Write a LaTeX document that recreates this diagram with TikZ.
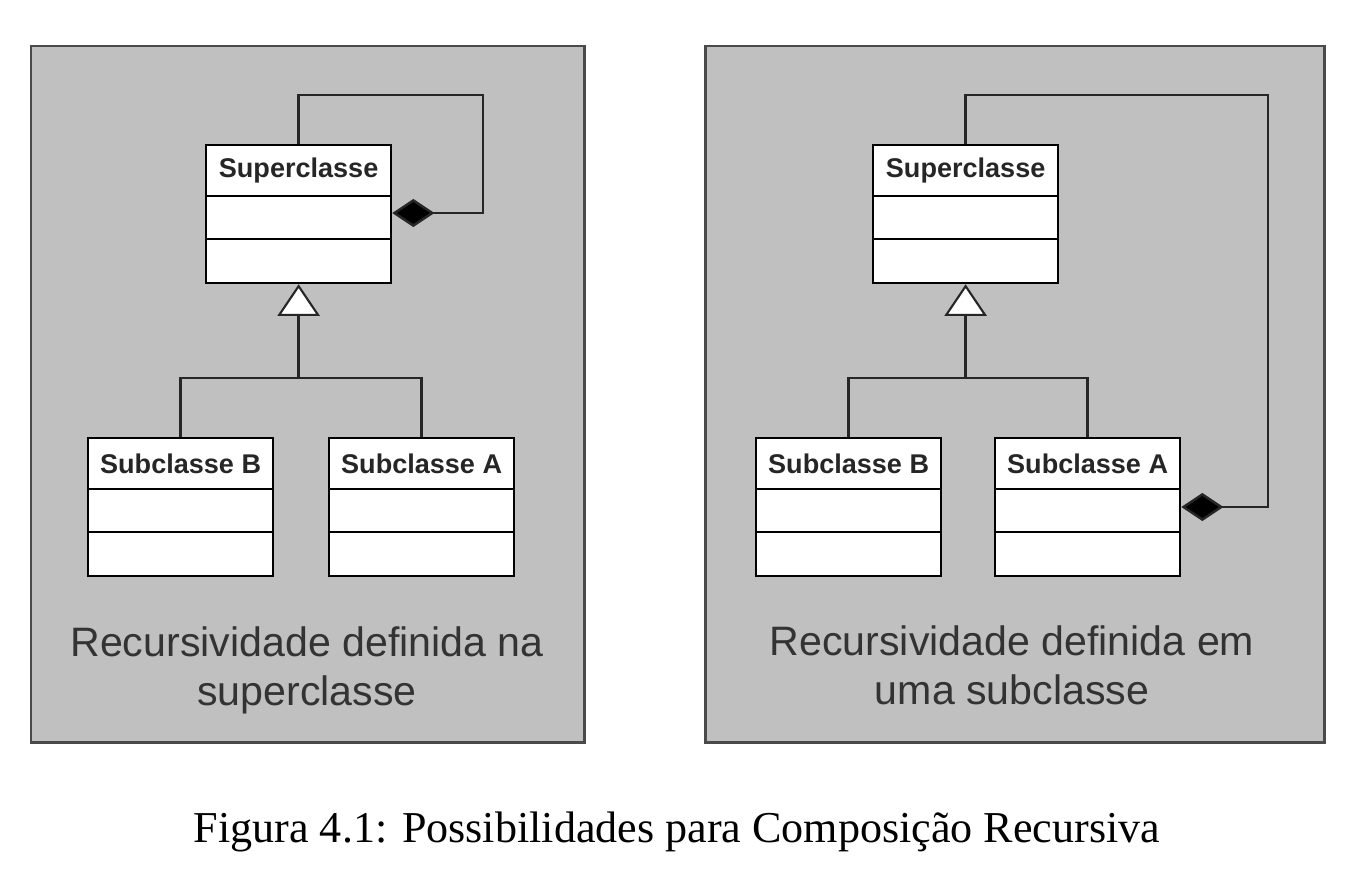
\documentclass[tikz,border=0pt]{standalone}
\usepackage{fontspec}
\setmainfont{Liberation Serif}
\newfontfamily\arialfont{Liberation Sans}
\usetikzlibrary{arrows.meta,calc}
\definecolor{panelgray}{HTML}{C0C0C0}
\definecolor{panelborder}{HTML}{4A4A4A}
\definecolor{paneltext}{HTML}{333333}
\begin{document}
\begin{tikzpicture}[x=0.02cm,y=-0.02cm,
  panel/.style={draw=panelborder,fill=panelgray,line width=1.7pt},
  umlclass/.style={draw=black,fill=white,line width=1.3pt,minimum width=3.7cm,minimum height=2.76cm,inner sep=0pt,anchor=north west},
  classtitle/.style={font=\arialfont\bfseries\fontsize{15.4}{18}\selectfont,text=black!85,inner sep=0pt},
  divider/.style={line width=1.3pt,draw=black},
  conn/.style={line width=1.4pt,draw=black!85},
  comp/.style={conn,-{Diamond[length=24pt,width=16pt,fill=black]}},
  gen/.style={conn,-{Triangle[open,length=18pt,width=24pt,fill=white,line width=1.2pt]}},
  paneltxt/.style={font=\arialfont\fontsize{23.4}{27.8}\selectfont,text=paneltext,align=center},
  caption/.style={font=\fontsize{25.1}{30}\selectfont,text=black}
]
\useasboundingbox (0,0) rectangle (1364,872);
\fill[white] (0,0) rectangle (1364,872);

% panels
\draw[panel] (31,46) rectangle (584,742);
\draw[panel] (705,46) rectangle (1324,742);

% ---------- left panel ----------
\node[umlclass] (sup1) at (205,144) {};
\node[umlclass] (subB1) at (87,437) {};
\node[umlclass] (subA1) at (328,437) {};

% ---------- right panel ----------
\node[umlclass] (sup2) at (872,144) {};
\node[umlclass] (subB2) at (755,437) {};
\node[umlclass] (subA2) at (994,437) {};

\foreach \c/\t in {sup1/Superclasse,subB1/Subclasse B,subA1/Subclasse A,sup2/Superclasse,subB2/Subclasse B,subA2/Subclasse A}{
  \node[classtitle] at ($(\c.north)+(0,27)$) {\t};
  \draw[divider] ($(\c.north west)+(0,52)$) -- ($(\c.north east)+(0,52)$);
  \draw[divider] ($(\c.north west)+(0,95)$) -- ($(\c.north east)+(0,95)$);
}

% left connectors
\coordinate (L1) at (483,95);
\coordinate (h1) at ($(sup1.south)+(0,94)$);
\draw[comp] (sup1.north) |- (L1) |- ($(sup1.north east)+(0,69)$);
\draw[gen] (h1) -- (sup1.south);
\draw[conn] (h1) -| (subB1.north);
\draw[conn] (h1) -| (subA1.north);

% right connectors
\coordinate (R1) at (1268,95);
\coordinate (h2) at ($(sup2.south)+(0,94)$);
\draw[comp] (sup2.north) |- (R1) |- ($(subA2.north east)+(0,70)$);
\draw[gen] (h2) -- (sup2.south);
\draw[conn] (h2) -| (subB2.north);
\draw[conn] (h2) -| (subA2.north);

% panel texts
\node[paneltxt] (t1) at (307,670) {Recursividade definida na\\superclasse};
\node[paneltxt] (t2) at (1012,665) {Recursividade definida em\\uma subclasse};

% caption
\node[caption] (cap) at (677,832) {Figura 4.1: Possibilidades para Composição Recursiva};
\end{tikzpicture}
\end{document}
